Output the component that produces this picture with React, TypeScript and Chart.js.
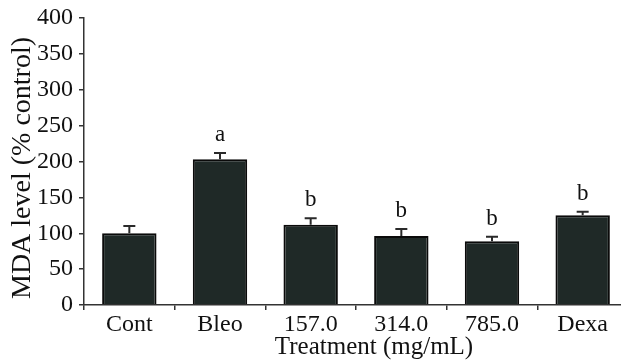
import React, { useEffect, useRef } from "react";
import { Chart, registerables } from "chart.js";

Chart.register(...registerables);

const categories = ["Cont", "Bleo", "157.0", "314.0", "785.0", "Dexa"];
const means = [100, 203, 112, 96, 89, 125];
const errors = [10, 9, 9, 10, 6, 5];
const letters = ["", "a", "b", "b", "b", "b"];
const yTicks = [0, 50, 100, 150, 200, 250, 300, 350, 400];
const yTitle = "MDA level (% control)";
const xTitle = "Treatment (mg/mL)";

const FONT = "'Liberation Serif', 'Times New Roman', serif";

export default function App() {
  const ref = useRef<HTMLCanvasElement | null>(null);

  useEffect(() => {
    document.body.style.margin = "0";
    document.body.style.overflow = "hidden";
    document.documentElement.style.overflow = "hidden";
    const canvas = ref.current;
    if (!canvas) return;

    const extras = {
      id: "extras",
      afterDatasetsDraw(chart: any) {
        const ctx = chart.ctx;
        const meta = chart.getDatasetMeta(0);
        const ys = chart.scales.y;
        ctx.save();
        meta.data.forEach((bar: any, i: number) => {
          const x = bar.x;
          const y0 = ys.getPixelForValue(means[i]);
          const y1 = ys.getPixelForValue(means[i] + errors[i]);
          ctx.strokeStyle = "#2a2a2a";
          ctx.lineWidth = 2;
          ctx.beginPath();
          ctx.moveTo(x, y0);
          ctx.lineTo(x, y1);
          ctx.moveTo(x - 6, y1);
          ctx.lineTo(x + 6, y1);
          ctx.stroke();
          if (letters[i]) {
            ctx.fillStyle = "#111";
            ctx.font = `23px ${FONT}`;
            ctx.textAlign = "center";
            ctx.textBaseline = "alphabetic";
            ctx.fillText(letters[i], x, y1 - 12);
          }
        });
        // axis titles
        ctx.fillStyle = "#111";
        ctx.font = `25px ${FONT}`;
        ctx.textAlign = "center";
        ctx.textBaseline = "alphabetic";
        ctx.fillText(xTitle, 374, 354);
        ctx.font = `28px ${FONT}`;
        ctx.translate(30, 168);
        ctx.rotate(-Math.PI / 2);
        ctx.fillText(yTitle, 0, 0);
        ctx.restore();
      },
    };

    const chart = new Chart(canvas, {
      type: "bar",
      data: {
        labels: categories,
        datasets: [
          {
            data: means,
            backgroundColor: "#1f2927",
            borderColor: "#0a0a0a",
            borderWidth: 2,
            categoryPercentage: 1,
            barPercentage: 0.6,
          },
        ],
      },
      options: {
        animation: false,
        responsive: false,
        layout: { padding: { top: 4, right: 12, left: 0, bottom: 0 } },
        plugins: {
          legend: { display: false },
          tooltip: { enabled: false },
        },
        scales: {
          x: {
            offset: true,
            grid: {
              offset: true,
              drawOnChartArea: false,
              drawTicks: true,
              tickLength: 5,
              color: "#333",
              lineWidth: 1.5,
            },
            border: { display: true, color: "#333", width: 1.5 },
            ticks: {
              color: "#111",
              font: { family: FONT, size: 24 },
              padding: 0,
            },
            afterFit(scale: any) {
              scale.height = 58;
            },
          },
          y: {
            min: 0,
            max: 400,
            afterBuildTicks(scale: any) {
              scale.ticks = yTicks.map((v) => ({ value: v }));
            },
            grid: {
              drawOnChartArea: false,
              drawTicks: true,
              tickLength: 5,
              color: "#333",
              lineWidth: 1.5,
            },
            border: { display: true, color: "#333", width: 1.5 },
            ticks: {
              color: "#111",
              font: { family: FONT, size: 24, lineHeight: 1 },
              padding: 6,
            },
            afterFit(scale: any) {
              scale.width = 84;
            },
          },
        },
      },
      plugins: [extras],
    });

    return () => chart.destroy();
  }, []);

  return (
    <div style={{ position: "absolute", left: 0, top: 0, width: 640, height: 363 }}>
      <canvas ref={ref} width={640} height={363} />
    </div>
  );
}
